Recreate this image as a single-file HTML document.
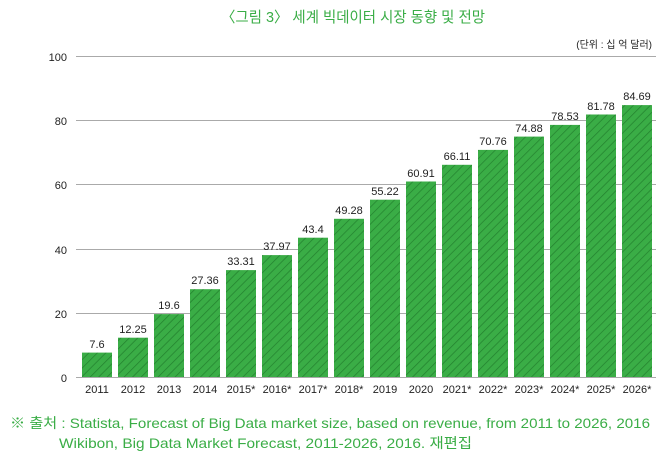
<!DOCTYPE html>
<html><head><meta charset="utf-8"><style>
body{margin:0;background:#fff;width:665px;height:460px;overflow:hidden}
</style></head><body>
<svg width="665" height="460" xmlns="http://www.w3.org/2000/svg" font-family="Liberation Sans, Noto Sans CJK KR, sans-serif">
<defs><pattern id="h" width="6" height="6" patternUnits="userSpaceOnUse" patternTransform="rotate(-45)">
<rect width="6" height="6" fill="#3aad46"/><line x1="0" y1="0" x2="6" y2="0" stroke="#23802e" stroke-width="1.4"/></pattern></defs>
<text x="221" y="22" font-size="15" fill="#3aad46" textLength="264" lengthAdjust="spacingAndGlyphs">〈그림 3〉 세계 빅데이터 시장 동향 및 전망</text>
<text x="652" y="48" text-anchor="end" font-size="10" fill="#222">(단위 : 십 억 달러)</text>
<g stroke="#aaa" stroke-width="1">
<line x1="76" y1="56.5" x2="656" y2="56.5"/><line x1="76" y1="120.5" x2="656" y2="120.5"/><line x1="76" y1="184.5" x2="656" y2="184.5"/><line x1="76" y1="249.5" x2="656" y2="249.5"/><line x1="76" y1="313.5" x2="656" y2="313.5"/><line x1="76" y1="377.5" x2="656" y2="377.5"/></g>
<g font-size="11" fill="#222" text-anchor="end">
<text x="67" y="61">100</text><text x="67" y="125">80</text><text x="67" y="189">60</text><text x="67" y="254">40</text><text x="67" y="318">20</text><text x="67" y="382">0</text></g>
<g fill="url(#h)">
<rect x="82" y="352.6" width="30" height="24.4"/>
<rect x="118" y="337.7" width="30" height="39.3"/>
<rect x="154" y="314.1" width="30" height="62.9"/>
<rect x="190" y="289.2" width="30" height="87.8"/>
<rect x="226" y="270.1" width="30" height="106.9"/>
<rect x="262" y="255.1" width="30" height="121.9"/>
<rect x="298" y="237.7" width="30" height="139.3"/>
<rect x="334" y="218.8" width="30" height="158.2"/>
<rect x="370" y="199.7" width="30" height="177.3"/>
<rect x="406" y="181.5" width="30" height="195.5"/>
<rect x="442" y="164.8" width="30" height="212.2"/>
<rect x="478" y="149.9" width="30" height="227.1"/>
<rect x="514" y="136.6" width="30" height="240.4"/>
<rect x="550" y="124.9" width="30" height="252.1"/>
<rect x="586" y="114.5" width="30" height="262.5"/>
<rect x="622" y="105.1" width="30" height="271.9"/>
</g>
<g font-size="11" fill="#222" text-anchor="middle">
<text x="97" y="348">7.6</text>
<text x="133" y="333">12.25</text>
<text x="169" y="309">19.6</text>
<text x="205" y="284">27.36</text>
<text x="241" y="265">33.31</text>
<text x="277" y="250">37.97</text>
<text x="313" y="233">43.4</text>
<text x="349" y="214">49.28</text>
<text x="385" y="195">55.22</text>
<text x="421" y="177">60.91</text>
<text x="457" y="160">66.11</text>
<text x="493" y="145">70.76</text>
<text x="529" y="132">74.88</text>
<text x="565" y="120">78.53</text>
<text x="601" y="110">81.78</text>
<text x="637" y="100">84.69</text>
</g>
<g font-size="11" fill="#222" text-anchor="middle">
<text x="97" y="393">2011</text><text x="133" y="393">2012</text><text x="169" y="393">2013</text><text x="205" y="393">2014</text>
<text x="241" y="393">2015*</text><text x="277" y="393">2016*</text><text x="313" y="393">2017*</text><text x="349" y="393">2018*</text>
<text x="385" y="393">2019</text><text x="421" y="393">2020</text><text x="457" y="393">2021*</text><text x="493" y="393">2022*</text>
<text x="529" y="393">2023*</text><text x="565" y="393">2024*</text><text x="601" y="393">2025*</text><text x="637" y="393">2026*</text>
</g>
<text x="10" y="428" font-size="14" fill="#3aad46" textLength="640" lengthAdjust="spacingAndGlyphs">※ 출처 : Statista, Forecast of Big Data market size, based on revenue, from 2011 to 2026, 2016</text>
<text x="59" y="448" font-size="14" fill="#3aad46" textLength="413" lengthAdjust="spacingAndGlyphs">Wikibon, Big Data Market Forecast, 2011-2026, 2016. 재편집</text>
</svg>
</body></html>
